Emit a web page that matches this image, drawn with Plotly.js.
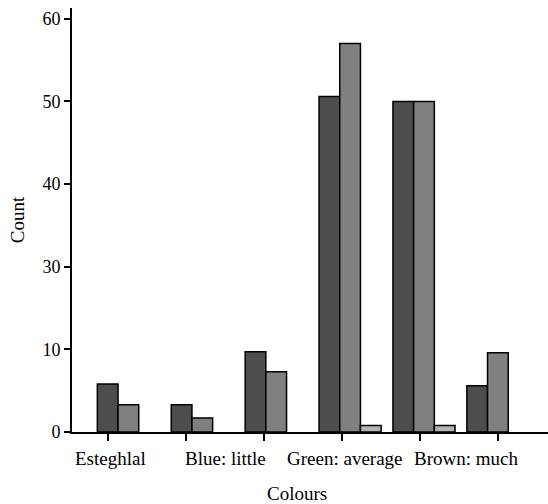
<!DOCTYPE html>
<html>
<head>
<meta charset="utf-8">
<script src="https://cdn.plot.ly/plotly-3.0.1.min.js"></script>
<style>html,body{margin:0;padding:0;background:#fff;}#chart{width:548px;height:504px;}</style>
</head>
<body>
<div id="chart"></div>
<script>
// Data
const groupIndex = [0, 1, 2, 3, 4, 5];
const darkValues = [5.8, 3.3, 9.7, 40.6, 40.0, 5.6];
const grayValues = [3.3, 1.7, 7.3, 47.0, 40.0, 9.6];
const lightValues = [null, null, null, 0.8, 0.8, null];
const categoryLabels = ["Esteghlal", "Blue: little", "Green: average", "Brown: much"];
const yTickValues = [0, 10, 20, 30, 40, 50];
const yTickText = ["0", "10", "30", "40", "50", "60"];

const FONT = "Liberation Serif, Times New Roman, serif";
const outline = {color: "#000", width: 1.5};

const traces = [
  {type: "bar", x: groupIndex, y: darkValues, marker: {color: "#4d4d4d", line: outline}, showlegend: false},
  {type: "bar", x: groupIndex, y: grayValues, marker: {color: "#808080", line: outline}, showlegend: false},
  {type: "bar", x: groupIndex, y: lightValues, marker: {color: "#b3b3b3", line: outline}, showlegend: false}
];

// x tick marks (unlabelled) and label positions, in axis units
const xTickPos = [-0.28, 0.775, 1.835, 2.886, 3.943, 4.998];
const labelPos = [-0.242, 1.318, 2.927, 4.565];

const annotations = categoryLabels.map((t, i) => ({
  text: t, x: labelPos[i], xref: "x", y: -0.062, yref: "paper",
  xanchor: "center", yanchor: "middle", showarrow: false,
  font: {family: FONT, size: 19, color: "#000"}
}));
annotations.push({
  text: "Colours", x: 2.285, xref: "x", y: -0.145, yref: "paper",
  xanchor: "center", yanchor: "middle", showarrow: false,
  font: {family: FONT, size: 19, color: "#000"}
});

const layout = {
  width: 548, height: 504,
  margin: {l: 72, r: 0, t: 8, b: 72},
  paper_bgcolor: "#fff", plot_bgcolor: "#fff",
  barmode: "group", bargap: 0.16, bargroupgap: 0,
  font: {family: FONT, size: 19, color: "#000"},
  xaxis: {
    range: [-0.763, 5.678], showgrid: false, zeroline: false,
    showline: true, linecolor: "#000", linewidth: 2,
    tickmode: "array", tickvals: xTickPos, ticktext: xTickPos.map(() => ""),
    ticks: "outside", ticklen: 7, tickwidth: 2, tickcolor: "#000"
  },
  yaxis: {
    range: [0, 51.3], showgrid: false, zeroline: false,
    showline: true, linecolor: "#000", linewidth: 2,
    tickmode: "array", tickvals: yTickValues, ticktext: yTickText,
    ticks: "outside", ticklen: 6, tickwidth: 2, tickcolor: "#000",
    tickfont: {family: FONT, size: 18, color: "#000"},
    title: {text: "Count", standoff: 13, font: {family: FONT, size: 19, color: "#000"}}
  },
  annotations: annotations
};

Plotly.newPlot("chart", traces, layout, {displayModeBar: false, staticPlot: true});
</script>
</body>
</html>
